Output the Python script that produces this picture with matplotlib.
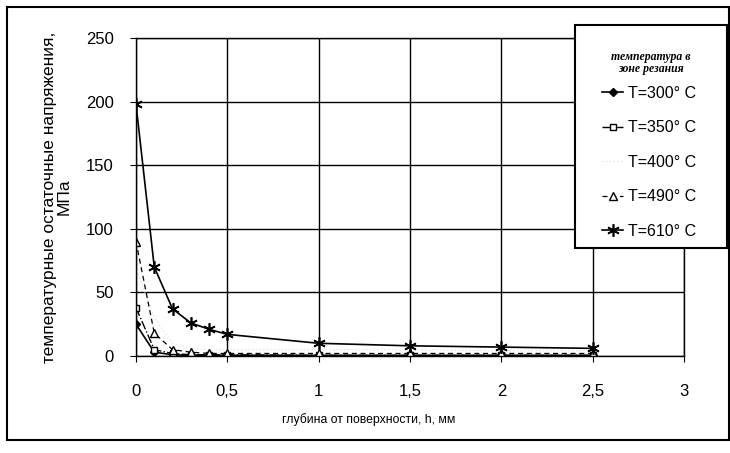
import matplotlib.pyplot as plt
from matplotlib.patches import Rectangle

plt.rcParams["font.family"] = ["Liberation Sans", "DejaVu Sans"]

# depth from the surface, mm
h = [0, 0.1, 0.2, 0.3, 0.4, 0.5, 1, 1.5, 2, 2.5]

# residual thermal stress, MPa, per cutting-zone temperature
s300 = [25, 3, 1, 0.5, 0.5, 0.5, 0.5, 0.5, 0.5, 0.5]
s350 = [38, 5, 2, 1, 1, 1, 0.5, 0.5, 0.5, 0.5]
s400 = [70, 30, 10, 6, 5, 5, 5, 5, 4, 4]
s490 = [90, 18, 5, 3, 2, 2, 2, 2, 2, 2]
s610 = [198, 70, 37, 26, 21, 17, 10, 8, 7, 6]

labels = ["T=300° C", "T=350° C", "T=400° C", "T=490° C", "T=610° C"]
xticks = [0, 0.5, 1, 1.5, 2, 2.5, 3]
xticklabels = ["0", "0,5", "1", "1,5", "2", "2,5", "3"]
yticks = [0, 50, 100, 150, 200, 250]

fig = plt.figure(figsize=(7.3, 4.53), dpi=100)
ax = fig.add_axes([136 / 730, 1 - 356 / 453, 548 / 730, 318 / 453])

ax.plot(h, s300, color="black", lw=1.2, marker="D", ms=4, label=labels[0])
ax.plot(h, s350, color="black", lw=1.0, ls="-.", marker="s", ms=5,
        mfc="white", mec="black", label=labels[1])
ax.plot(h, s400, color="#e6e6e6", lw=1.0, ls=":", label=labels[2])
ax.plot(h, s490, color="black", lw=0.9, ls=(0, (4, 3)), marker="^", ms=6,
        mfc="white", mec="black", label=labels[3])
ax.plot(h, s610, color="black", lw=1.2, marker=(6, 2, 0), ms=9, mew=1.2,
        label=labels[4])

ax.set_xlim(0, 3)
ax.set_ylim(0, 250)
ax.set_xticks(xticks)
ax.set_xticklabels(xticklabels)
ax.set_yticks(yticks)
ax.grid(True, color="black", lw=1.0)
ax.set_axisbelow(True)
for sp in ax.spines.values():
    sp.set_color("black")
    sp.set_linewidth(1.0)
ax.tick_params(axis="both", labelsize=12, length=4, color="black")
ax.tick_params(axis="y", pad=12)
ax.tick_params(axis="x", pad=16)

ax.set_xlabel("глубина от поверхности, h, мм", fontsize=8.8)
ax.xaxis.set_label_coords(0.425, -0.18)
ax.set_ylabel("температурные остаточные напряжения,\nМПа", fontsize=12.5,
              labelpad=10, linespacing=1.0)

# legend box drawn separately (opaque, over the grid), entries right-aligned inside
fig.patches.append(Rectangle((575 / 730, 1 - 248 / 453), 152 / 730, 223 / 453,
                             transform=fig.transFigure, facecolor="white",
                             edgecolor="black", lw=1.5, zorder=5))
fig.text(651 / 730, 1 - 63 / 453, "температура в\nзоне резания", ha="center",
         va="center", fontsize=8.5, style="italic", weight="bold",
         family="Liberation Serif", linespacing=1.0, zorder=6)
leg = fig.legend(loc="upper right", bbox_to_anchor=(704 / 730, 1 - 78 / 453),
                 fontsize=11.5, labelspacing=1.22, handlelength=1.3,
                 handletextpad=0.3, frameon=False, borderpad=0)
leg.set_zorder(6)
leg._legend_box.align = "right"

fig.patches.append(Rectangle((7 / 730, 1 - 440 / 453), 722 / 730, 433 / 453,
                             transform=fig.transFigure, fill=False,
                             edgecolor="black", lw=1.5))

fig.savefig("out.png", dpi=100)
